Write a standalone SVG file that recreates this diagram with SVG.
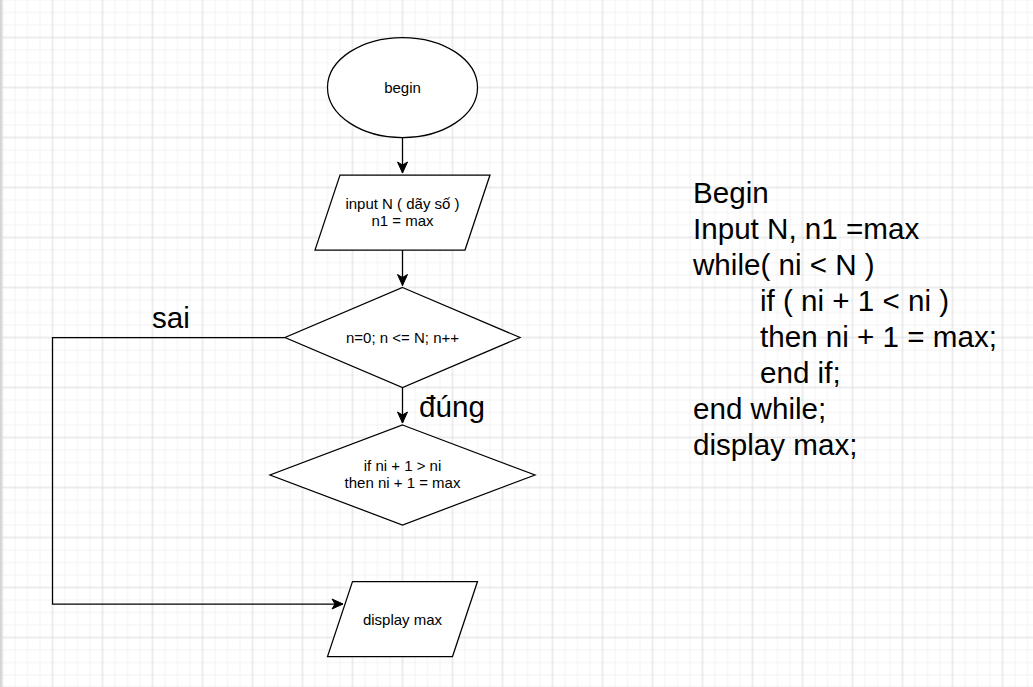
<svg xmlns="http://www.w3.org/2000/svg" width="1033" height="687" viewBox="0 0 1033 687">
<defs>
<pattern id="grid" x="2.5" y="37.5" width="50" height="50" patternUnits="userSpaceOnUse">
<path d="M12.5 0V50M25 0V50M37.5 0V50M0 12.5H50M0 25H50M0 37.5H50" stroke="#f2f2f2" stroke-width="1" fill="none"/>
<path d="M0 0V50M50 0V50M0 0H50M0 50H50" stroke="#dadada" stroke-width="1" fill="none"/>
</pattern>
<marker id="arr" markerUnits="userSpaceOnUse" markerWidth="14" markerHeight="12" viewBox="-12 -6 14 12" refX="0" refY="0" orient="auto">
<path d="M0 0L-11 -5L-8 0L-11 5Z" fill="#000" stroke="#000" stroke-width="1"/>
</marker>
</defs>
<style>
.shape{fill:#fff;stroke:#000;stroke-width:1.25}
.edge{fill:none;stroke:#000;stroke-width:1.25}
.t{font-family:"Liberation Sans",Arial,sans-serif;font-size:15px;fill:#000;text-anchor:middle}
.big{font-family:"Liberation Sans",Arial,sans-serif;font-size:29.6px;fill:#000}
</style>
<rect width="1033" height="687" fill="#fff"/>
<rect width="1033" height="687" fill="url(#grid)"/>
<rect x="0" y="0" width="2" height="687" fill="#d6d6d6"/>

<g id="connectors">
<path class="edge" d="M402.5 137.5V173" marker-end="url(#arr)"/>
<path class="edge" d="M402.5 250V285.5" marker-end="url(#arr)"/>
<path class="edge" d="M402.5 387.5V423" marker-end="url(#arr)"/>
<path class="edge" d="M285 337.5H52.5V604H343" marker-end="url(#arr)"/>
<text class="big" x="419" y="417">đúng</text>
<text class="big" x="152" y="328">sai</text>
</g>

<g id="begin">
<ellipse class="shape" cx="402.5" cy="87.5" rx="75" ry="50"/>
<text class="t" x="402.5" y="93">begin</text>
</g>

<g id="input">
<path class="shape" d="M340 175H490L465 250H315Z"/>
<text class="t" x="402.5" y="209">input N ( dãy số )</text>
<text class="t" x="402.5" y="226">n1 = max</text>
</g>

<g id="loop">
<path class="shape" d="M402.5 287.5L520 337.5L402.5 387.5L285 337.5Z"/>
<text class="t" x="402.5" y="343">n=0; n &lt;= N; n++</text>
</g>

<g id="cond">
<path class="shape" d="M402.5 425L535 475L402.5 525L270 475Z"/>
<text class="t" x="402.5" y="470.5">if ni + 1 &gt; ni</text>
<text class="t" x="402.5" y="488">then ni + 1 = max</text>
</g>

<g id="display">
<path class="shape" d="M352.5 581.5H477.5L452.5 656.5H327.5Z"/>
<text class="t" x="402.5" y="624.5">display max</text>
</g>

<g id="pseudocode">
<text class="big" x="693" y="203">Begin</text>
<text class="big" x="693" y="239">Input N, n1 =max</text>
<text class="big" x="693" y="275">while( ni &lt; N )</text>
<text class="big" x="760" y="311">if ( ni + 1 &lt; ni )</text>
<text class="big" x="760" y="347">then ni + 1 = max;</text>
<text class="big" x="760" y="383">end if;</text>
<text class="big" x="693" y="419">end while;</text>
<text class="big" x="693" y="455">display max;</text>
</g>
</svg>
